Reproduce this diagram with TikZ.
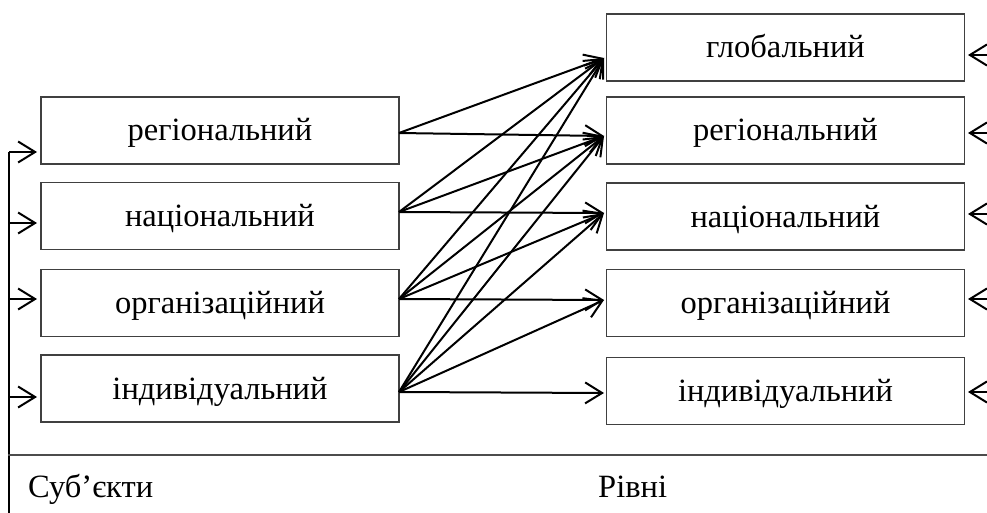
\documentclass[tikz,border=0pt]{standalone}
\usepackage{fontspec}
\setmainfont{Liberation Serif}
\usetikzlibrary{arrows.meta}
\begin{document}
\begin{tikzpicture}[x=1pt,y=-1pt,
  levelbox/.style={draw=black!75,line width=1.5pt,minimum width=358pt,minimum height=67pt,
    inner sep=0pt,text height=24pt,text depth=3pt,font=\fontsize{32.5}{36}\selectfont},
  link/.style={line width=2pt,-{Straight Barb[length=17pt,width=21pt,line width=2pt]}},
  lbl/.style={anchor=base west,inner sep=0pt,font=\fontsize{32.5}{36}\selectfont}]
\useasboundingbox (0,0) rectangle (987,513);

% subject boxes (left column)
\node[levelbox] (L1) at (220,130.5) {регіональний};
\node[levelbox] (L2) at (220,216) {національний};
\node[levelbox] (L3) at (220,303) {організаційний};
\node[levelbox] (L4) at (220,388.5) {індивідуальний};

% level boxes (right column)
\node[levelbox] (R0) at (785.5,47.5) {глобальний};
\node[levelbox] (R1) at (785.5,130.5) {регіональний};
\node[levelbox] (R2) at (785.5,216.5) {національний};
\node[levelbox] (R3) at (785.5,303) {організаційний};
\node[levelbox] (R4) at (785.5,391) {індивідуальний};

% start and end points of the links
\coordinate (s1) at (399,133);
\coordinate (s2) at (399,212);
\coordinate (s3) at (399,299);
\coordinate (s4) at (399,392);
\coordinate (t0) at (604,58);
\coordinate (t1) at (604,136);
\coordinate (t2) at (604,213);
\coordinate (t3) at (604,300);
\coordinate (t4) at (604,393);

\foreach \s/\t in {s1/t0,s1/t1,
                   s2/t0,s2/t1,s2/t2,
                   s3/t0,s3/t1,s3/t2,s3/t3,
                   s4/t0,s4/t1,s4/t2,s4/t3,s4/t4}
  \draw[link] (\s) -- (\t);

% feed line on the left
\coordinate (fTop) at (9,152);
\coordinate (fBot) at (9,513);
\draw[line width=2.2pt] (fTop) -- (fBot);
\foreach \n/\y in {1/152,2/223,3/299,4/397}{
  \coordinate (e\n) at (9,\y);
  \coordinate (f\n) at (37,\y);
  \draw[link] (e\n) -- (f\n);
}

% incoming arrows on the right
\foreach \n/\y in {0/55,1/133,2/214,3/299,4/392}{
  \coordinate (i\n) at (1000,\y);
  \coordinate (j\n) at (968,\y);
  \draw[link] (i\n) -- (j\n);
}

% separator and captions
\coordinate (h1) at (8,455);
\coordinate (h2) at (987,455);
\draw[draw=black!70,line width=1.6pt] (h1) -- (h2);
\node[lbl] (subj) at (28,497) {Суб’єкти};
\node[lbl] (lev) at (598,497) {Рівні};
\end{tikzpicture}
\end{document}
